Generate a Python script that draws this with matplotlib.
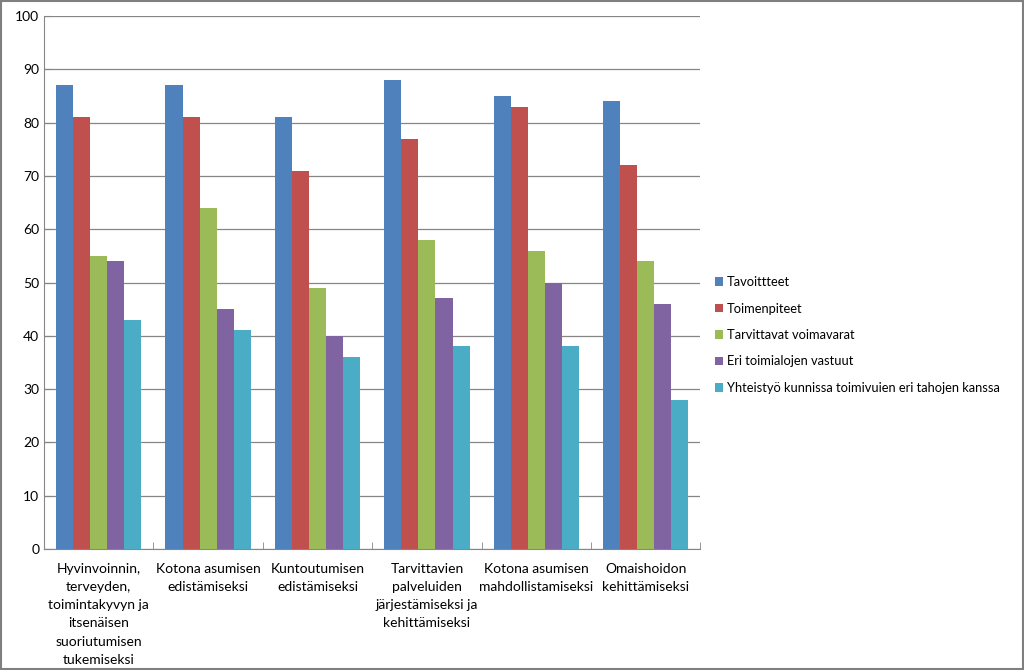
import numpy as np
import matplotlib.pyplot as plt
from matplotlib.patches import Rectangle

categories = [
    "Hyvinvoinnin,\nterveyden,\ntoimintakyvyn ja\nitsenäisen\nsuoriutumisen\ntukemiseksi",
    "Kotona asumisen\nedistämiseksi",
    "Kuntoutumisen\nedistämiseksi",
    "Tarvittavien\npalveluiden\njärjestämiseksi ja\nkehittämiseksi",
    "Kotona asumisen\nmahdollistamiseksi",
    "Omaishoidon\nkehittämiseksi",
]

series_names = [
    "Tavoittteet",
    "Toimenpiteet",
    "Tarvittavat voimavarat",
    "Eri toimialojen vastuut",
    "Yhteistyö kunnissa toimivuien eri tahojen kanssa",
]

tavoitteet = [87, 87, 81, 88, 85, 84]
toimenpiteet = [81, 81, 71, 77, 83, 72]
voimavarat = [55, 64, 49, 58, 56, 54]
vastuut = [54, 45, 40, 47, 50, 46]
yhteistyo = [43, 41, 36, 38, 38, 28]

colors = ["#4F81BD", "#C0504D", "#9BBB59", "#8064A2", "#4BACC6"]

plt.rcParams['font.family'] = ['Lato', 'DejaVu Sans']

fig = plt.figure(figsize=(10.24, 6.70), dpi=100)
ax = fig.add_axes([0.043, 0.1806, 0.641, 0.7955])

values = [tavoitteet, toimenpiteet, voimavarat, vastuut, yhteistyo]
x = np.arange(len(categories))
width = 0.156
handles = []
for i, (name, vals) in enumerate(zip(series_names, values)):
    b = ax.bar(x + (i - 2) * width, vals, width, color=colors[i], label=name, zorder=3)
    handles.append(b)

ax.set_xlim(-0.5, len(categories) - 0.5)
ax.set_ylim(0, 100)
ax.set_yticks(range(0, 101, 10))
ax.yaxis.grid(True, color="#868686", linewidth=0.9, zorder=0)
ax.set_xticks(x)
ax.set_xticklabels(categories, fontsize=10, linespacing=1.62)
ax.set_xticks(np.arange(-0.5, len(categories), 1), minor=True)
ax.tick_params(axis="x", which="major", length=0, pad=10)
ax.tick_params(axis="x", which="minor", length=5, color="#868686", direction="in")
ax.tick_params(axis="y", length=5, color="#868686", labelsize=10, direction="in")
for s in ["top", "right"]:
    ax.spines[s].set_visible(False)
ax.spines["left"].set_color("#868686")
ax.spines["bottom"].set_color("#868686")

ax.legend(handles=handles, loc="center left", bbox_to_anchor=(0.698, 0.5),
          bbox_transform=fig.transFigure,
          frameon=False, fontsize=9.3, handlelength=0.65, handleheight=0.65,
          handletextpad=0.3, labelspacing=1.12, borderaxespad=0, borderpad=0)

fig.patches.append(Rectangle((0.001, 0.0015), 0.998, 0.997, transform=fig.transFigure,
                             fill=False, edgecolor="#7f7f7f", linewidth=1.5))

fig.savefig("out.png", dpi=100)
